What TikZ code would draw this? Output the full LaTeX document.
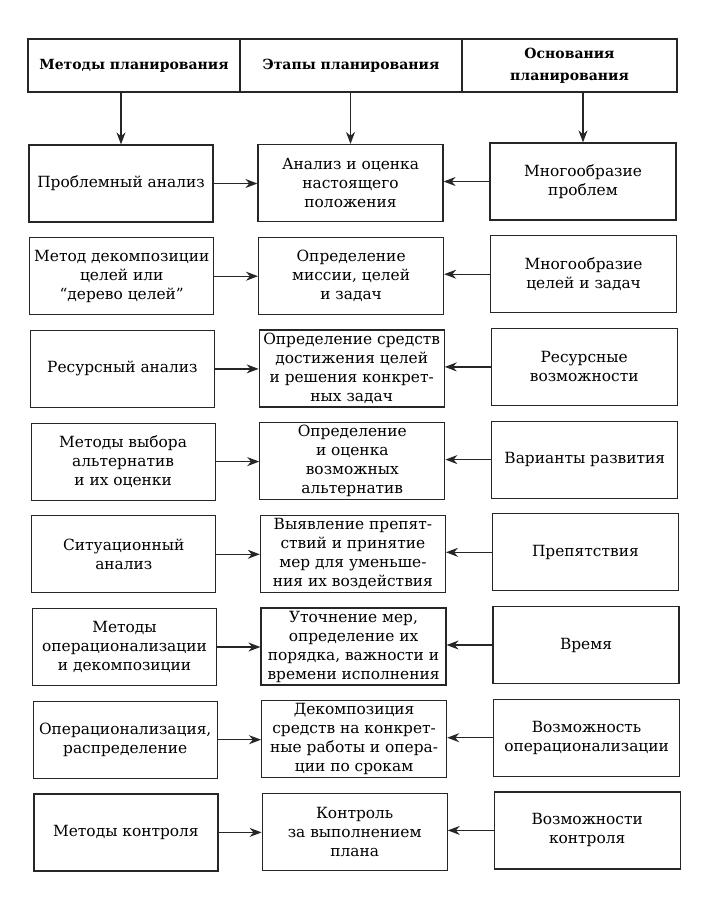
\documentclass[tikz,border=0pt]{standalone}
\usepackage{fontspec}
\setmainfont{DejaVu Serif}
\usetikzlibrary{arrows.meta}
\tikzset{
  box/.style={draw=black!85, line width=1.2pt, minimum height=77pt, align=center, inner sep=1pt,
    font=\fontsize{15.4}{19}\selectfont},
  lbox/.style={box, minimum width=184pt},
  mbox/.style={box, minimum width=185pt},
  rbox/.style={box, minimum width=186pt},
  hbox/.style={draw=black!85, line width=1.2pt, minimum height=53pt, align=center, inner sep=1pt,
    font=\bfseries\fontsize{14}{22}\selectfont},
  arr/.style={-{Stealth[length=12pt,width=9pt]}, line width=1.2pt, draw=black!85},
}
\begin{document}
\begin{tikzpicture}[x=1pt,y=-1pt]
\useasboundingbox[fill=white] (0,0) rectangle (713,903);
% header
\node[hbox, minimum width=212pt] (h1) at (134,65.5) {Методы планирования};
\node[hbox, minimum width=222pt] (h2) at (351,65.5) {Этапы планирования};
\node[hbox, minimum width=215pt] (h3) at (569.5,65.5) {Основания\\планирования};
% rows
\node[lbox] (l1) at (121.0,183.5) {Проблемный анализ};
\node[mbox] (m1) at (350.5,183.0) {Анализ и оценка\\настоящего\\положения};
\node[rbox] (r1) at (583.0,181.5) {Многообразие\\проблем};

\node[lbox] (l2) at (121.7,276.2) {Метод декомпозиции\\целей или\\“дерево целей”};
\node[mbox] (m2) at (351.1,275.7) {Определение\\миссии, целей\\и задач};
\node[rbox] (r2) at (583.6,274.2) {Многообразие\\целей и задач};

\node[lbox] (l3) at (122.4,368.9) {Ресурсный анализ};
\node[mbox] (m3) at (351.7,368.4) {Определение средств\\достижения целей\\и решения конкрет-\\ных задач};
\node[rbox] (r3) at (584.2,366.9) {Ресурсные\\возможности};

\node[lbox] (l4) at (123.1,461.6) {Методы выбора\\альтернатив\\и их оценки};
\node[mbox] (m4) at (352.3,461.1) {Определение\\и оценка\\возможных\\альтернатив};
\node[rbox] (r4) at (584.8,459.6) {Варианты развития};

\node[lbox] (l5) at (123.8,554.3) {Ситуационный\\анализ};
\node[mbox] (m5) at (352.9,553.8) {Выявление препят-\\ствий и принятие\\мер для уменьше-\\ния их воздействия};
\node[rbox] (r5) at (585.4,552.3) {Препятствия};

\node[lbox] (l6) at (124.5,647.0) {Методы\\операционализации\\и декомпозиции};
\node[mbox] (m6) at (353.5,646.5) {Уточнение мер,\\определение их\\порядка, важности и\\времени исполнения};
\node[rbox] (r6) at (586.0,645.0) {Время};

\node[lbox] (l7) at (125.2,739.7) {Операционализация,\\распределение};
\node[mbox] (m7) at (354.1,739.2) {Декомпозиция\\средств на конкрет-\\ные работы и опера-\\ции по срокам};
\node[rbox] (r7) at (586.6,737.7) {Возможность\\операционализации};

\node[lbox] (l8) at (125.9,832.4) {Методы контроля};
\node[mbox] (m8) at (354.7,831.9) {Контроль\\за выполнением\\плана};
\node[rbox] (r8) at (587.2,830.4) {Возможности\\контроля};
% header arrows
\draw[arr] (h1.south -| l1.north) -- (l1.north);
\draw[arr] (h2.south -| m1.north) -- (m1.north);
\draw[arr] (h3.south -| r1.north) -- (r1.north);
% horizontal arrows
\foreach \i in {1,...,8}{
  \draw[arr] (l\i.east) -- (l\i.east -| m\i.west);
  \draw[arr] (r\i.west) -- (r\i.west -| m\i.east);
}
\end{tikzpicture}
\end{document}
